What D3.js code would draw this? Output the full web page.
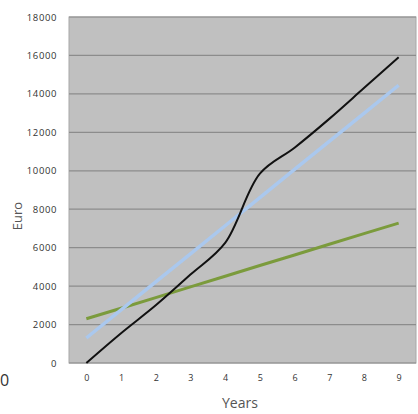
<!DOCTYPE html>
<html>
<head>
<meta charset="utf-8">
<script src="https://cdn.jsdelivr.net/npm/d3@7"></script>
<style>
  body { margin: 0; background: #fff; }
  text { font-family: "Open Sans", "DejaVu Sans", sans-serif; }
</style>
</head>
<body>
<div id="chart"></div>
<script>
// chart values
var years = [0, 1, 2, 3, 4, 5, 6, 7, 8, 9]
var actual = [0, 1550, 3000, 4600, 6250, 9850, 11200, 12700, 14300, 15900]
var trendBlue = [1300, 2760, 4220, 5680, 7140, 8600, 10070, 11530, 12990, 14450]
var trendGreen = [2300, 2850, 3400, 3960, 4510, 5070, 5620, 6180, 6730, 7280]
var yTicks = [0, 2000, 4000, 6000, 8000, 10000, 12000, 14000, 16000, 18000]

var width = 418
var height = 414
var plotL = 69, plotR = 416, plotT = 17, plotB = 363

var svg = d3.select('#chart').append('svg')
	.attr('width', width)
	.attr('height', height)

var x = d3.scalePoint().domain(years).range([plotL, plotR]).padding(0.5)
var y = d3.scaleLinear().domain([0, 18000]).range([plotB, plotT])

// plot background
svg.append('rect')
	.attr('x', plotL).attr('y', plotT)
	.attr('width', plotR - plotL).attr('height', plotB - plotT)
	.attr('fill', '#c0c0c0')
	.attr('stroke', '#a8a8a8')

// gridlines
svg.append('g').selectAll('line')
	.data(yTicks)
	.enter().append('line')
	.attr('x1', plotL).attr('x2', plotR)
	.attr('y1', function(d) { return y(d) })
	.attr('y2', function(d) { return y(d) })
	.attr('stroke', '#8c8c8c')
	.attr('stroke-width', 1.2)

// y axis labels
var yAxis = d3.axisLeft(y).tickValues(yTicks).tickSize(0).tickPadding(12).tickFormat(d3.format('d'))
var gy = svg.append('g').attr('transform', 'translate(' + plotL + ',0)').call(yAxis)
gy.select('.domain').remove()
gy.selectAll('text').attr('font-size', 9.5).attr('fill', '#333')
	.attr('letter-spacing', 0.6)
	.style('font-family', '"Open Sans", sans-serif')

// x axis labels
var xAxis = d3.axisBottom(x).tickSize(0).tickPadding(12)
var gx = svg.append('g').attr('transform', 'translate(0,' + plotB + ')').call(xAxis)
gx.select('.domain').remove()
gx.selectAll('text').attr('font-size', 9).attr('fill', '#333')
	.style('font-family', '"Open Sans", sans-serif')

// lines
function line(vals, curve) {
	return d3.line()
		.x(function(d, i) { return x(years[i]) })
		.y(function(d) { return y(d) })
		.curve(curve)(vals)
}

svg.append('path')
	.attr('d', line(trendGreen, d3.curveLinear))
	.attr('fill', 'none').attr('stroke', '#7b9b3c').attr('stroke-width', 3)

svg.append('path')
	.attr('d', line(trendBlue, d3.curveLinear))
	.attr('fill', 'none').attr('stroke', '#aac8ee').attr('stroke-width', 3.5)

svg.append('path')
	.attr('d', line(actual, d3.curveCatmullRom.alpha(0.5)))
	.attr('fill', 'none').attr('stroke', '#111').attr('stroke-width', 2)

// axis titles
svg.append('text')
	.attr('x', 240).attr('y', 408)
	.attr('text-anchor', 'middle')
	.attr('font-size', 14).attr('fill', '#555')
	.attr('textLength', 36).attr('lengthAdjust', 'spacingAndGlyphs')
	.text('Years')

svg.append('text')
	.attr('transform', 'translate(22,216) rotate(-90)')
	.attr('text-anchor', 'middle')
	.attr('font-size', 13).attr('fill', '#555')
	.text('Euro')

// stray label at left edge
svg.append('text')
	.attr('x', 0).attr('y', 386)
	.attr('font-size', 16).attr('fill', '#333')
	.text('0')
</script>
</body>
</html>
